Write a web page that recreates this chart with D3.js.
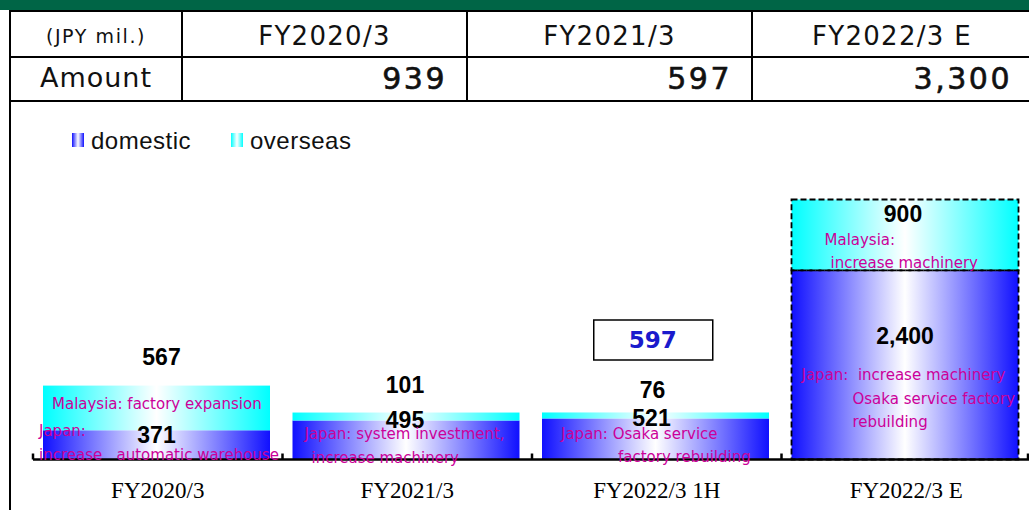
<!DOCTYPE html>
<html>
<head>
  <meta charset="utf-8">
  <title>Capital investment</title>
  <style>
    body { margin: 0; background: #fff; }
    svg { display: block; }
    .tbl_line { stroke: #000; stroke-width: 2; }
    .tbl_head { font-family: "DejaVu Sans", Verdana, sans-serif; fill: #111; text-anchor: middle; dominant-baseline: middle; }
    .tbl_amt { font-family: "DejaVu Sans", Verdana, sans-serif; font-size: 30px; fill: #111; stroke: #111; stroke-width: 0.6px; text-anchor: end; dominant-baseline: middle; letter-spacing: 2.5px; }
    .legend_text { font-family: "Liberation Sans", Arial, sans-serif; font-size: 24px; fill: #111; letter-spacing: 0.5px; }
    .val_label { font-family: "Liberation Sans", Arial, sans-serif; font-size: 23px; font-weight: bold; fill: #000; text-anchor: middle; dominant-baseline: middle; }
    .note { font-family: "DejaVu Sans", Verdana, sans-serif; font-size: 15px; fill: #cc0099; dominant-baseline: middle; white-space: pre; }
    .axis text { font-family: "Liberation Serif", "Times New Roman", serif; font-size: 23px; fill: #000; }
    .axis path, .axis line { stroke: #000; stroke-width: 2.5; }
  </style>
</head>
<body>
  <svg id="canvas" width="1029" height="510"></svg>
  <script src="https://d3js.org/d3.v7.min.js"></script>
  <script>
    // ---- data ----
    const categories = ["FY2020/3", "FY2021/3", "FY2022/3 1H", "FY2022/3 E"];
    const domestic = [371, 495, 521, 2400];
    const overseas = [567, 101, 76, 900];
    const tableHead = ["(JPY mil.)", "FY2020/3", "FY2021/3", "FY2022/3 E"];
    const tableRowLabel = "Amount";
    const tableAmounts = [939, 597, 3300];
    const halfYearTotal = 597;
    const seriesNames = ["domestic", "overseas"];
    const noteLines = [
      ["Malaysia: factory expansion", "Japan:", "increase   automatic warehouse"],
      ["Japan: system investment,", "increase machinery"],
      ["Japan: Osaka service", "factory rebuilding"],
      ["Malaysia:", "increase machinery", "Japan:  increase machinery", "Osaka service factory", "rebuilding"]
    ];

    // ---- layout (offsets from band start / pixel rows) ----
    const noteOffsets = [
      [[19, 404], [6, 431], [6, 455]],
      [[22, 434], [29, 458]],
      [[29, 434], [86, 457]],
      [[43, 240], [49, 263], [20, 375], [71, 399], [71, 422]]
    ];
    const overLabelDy = [-27, -26, -21, 16];   // from top of overseas segment
    const domLabelDy = [7, 1, 1.5, 68];       // from top of domestic segment
    const overLabelDx = [5, -1, -3, -2];
    const domLabelDx = [0, -1, -4, 0];

    const svg = d3.select("#canvas");
    const W = 1029, H = 510;

    // gradients
    const defs = svg.append("defs");
    const grad = (id, c) => {
      const g = defs.append("linearGradient").attr("id", id).attr("x1", 0).attr("x2", 1).attr("y1", 0).attr("y2", 0);
      g.append("stop").attr("offset", 0).attr("stop-color", c);
      g.append("stop").attr("offset", 0.5).attr("stop-color", "#fff");
      g.append("stop").attr("offset", 1).attr("stop-color", c);
    };
    grad("g_dom", "#1010ff");
    grad("g_ovs", "#00ffff");
    const fills = ["url(#g_dom)", "url(#g_ovs)"];

    // ---- header table ----
    svg.append("rect").attr("x", 0).attr("y", 0).attr("width", W).attr("height", 10).attr("fill", "#006546");

    const colX = [10, 182, 467, 752, 1032];
    const rowY = [11, 57, 101];
    rowY.forEach(y => svg.append("line").attr("class", "tbl_line").attr("x1", 10).attr("x2", W).attr("y1", y).attr("y2", y));
    colX.slice(1, 4).forEach(x => svg.append("line").attr("class", "tbl_line").attr("x1", x).attr("x2", x).attr("y1", 11).attr("y2", 101));
    svg.append("line").attr("class", "tbl_line").attr("x1", 10).attr("x2", 10).attr("y1", 10).attr("y2", H);

    svg.selectAll(".tbl_head_t").data(tableHead).enter().append("text")
      .attr("class", "tbl_head")
      .attr("x", (_, i) => (colX[i] + colX[i + 1]) / 2)
      .attr("y", 37.5)
      .style("font-size", (_, i) => i ? "26px" : "19px")
      .style("letter-spacing", (_, i) => i ? "1.3px" : "1.6px")
      .text(d => d);

    svg.append("text").attr("class", "tbl_head")
      .attr("x", (colX[0] + colX[1]) / 2).attr("y", 79.5)
      .style("font-size", "27px").style("letter-spacing", "1px")
      .text(tableRowLabel);

    svg.selectAll(".tbl_amt").data(tableAmounts).enter().append("text")
      .attr("class", "tbl_amt")
      .attr("x", (_, i) => colX[i + 2] - 20)
      .attr("y", 80)
      .text(d => d3.format(",")(d));

    // ---- chart ----
    const x = d3.scaleBand().domain(categories).range([33, 1031]);
    const totals = domestic.map((d, i) => d + overseas[i]);
    const y = d3.scaleLinear().domain([0, d3.max(totals)]).range([459.5, 199.5]);
    const barX = c => x(c) + 10;
    const barW = x.bandwidth() - 22.5;

    const rows = categories.map((c, i) => ({ c, i, dom: domestic[i], ovs: overseas[i] }));

    const bars = svg.append("g");
    bars.selectAll(".dom").data(rows).enter().append("rect")
      .attr("x", d => barX(d.c)).attr("width", barW)
      .attr("y", d => y(d.dom)).attr("height", d => y(0) - y(d.dom))
      .attr("fill", fills[0]);
    bars.selectAll(".ovs").data(rows).enter().append("rect")
      .attr("x", d => barX(d.c)).attr("width", barW)
      .attr("y", d => y(d.dom + d.ovs)).attr("height", d => y(d.dom) - y(d.dom + d.ovs))
      .attr("fill", fills[1]);

    // forecast bar outline (dashed)
    const fc = rows[rows.length - 1];
    [[fc.dom, 0], [fc.dom + fc.ovs, fc.dom]].forEach(([top, bot]) => {
      svg.append("rect")
        .attr("x", barX(fc.c)).attr("width", barW)
        .attr("y", y(top)).attr("height", y(bot) - y(top))
        .attr("fill", "none").attr("stroke", "#000").attr("stroke-width", 1.8)
        .attr("stroke-dasharray", "6,3");
    });

    // axis
    const axis = svg.append("g").attr("class", "axis").attr("transform", "translate(0," + y(0) + ")")
      .call(d3.axisBottom(x).tickSize(0).tickPadding(22));
    axis.select(".domain").attr("d", "M33,0H" + W);
    axis.selectAll(".bound").data(categories.concat([null])).enter().append("line")
      .attr("x1", d => d ? x(d) : x.range()[1] - 3).attr("x2", d => d ? x(d) : x.range()[1] - 3)
      .attr("y1", 0).attr("y2", -6);

    // value labels
    svg.selectAll(".ovs_lbl").data(rows).enter().append("text")
      .attr("class", "val_label")
      .attr("x", d => barX(d.c) + barW / 2 + overLabelDx[d.i])
      .attr("y", d => y(d.dom + d.ovs) + overLabelDy[d.i])
      .text(d => d3.format(",")(d.ovs));
    svg.selectAll(".dom_lbl").data(rows).enter().append("text")
      .attr("class", "val_label")
      .attr("x", d => barX(d.c) + barW / 2 + domLabelDx[d.i])
      .attr("y", d => y(d.dom) + domLabelDy[d.i])
      .text(d => d3.format(",")(d.dom));

    // half-year total box
    const hx = x(categories[2]) + x.bandwidth() / 2 - 4;
    svg.append("rect").attr("x", hx - 59).attr("y", 320).attr("width", 119).attr("height", 40)
      .attr("fill", "#fff").attr("stroke", "#000").attr("stroke-width", 1.5);
    svg.append("text").attr("x", hx).attr("y", 341)
      .attr("text-anchor", "middle").attr("dominant-baseline", "middle")
      .style("font-family", "'DejaVu Sans', Verdana, sans-serif").style("font-weight", "bold")
      .style("font-size", "23px").style("fill", "#1a1acc")
      .text(halfYearTotal);

    // notes
    noteLines.forEach((lines, bi) => {
      lines.forEach((t, li) => {
        svg.append("text").attr("class", "note")
          .attr("x", x(categories[bi]) + noteOffsets[bi][li][0])
          .attr("y", noteOffsets[bi][li][1])
          .text(t);
      });
    });

    // legend
    const lg = svg.append("g").attr("transform", "translate(72,133)");
    const li = lg.selectAll("g").data(seriesNames).enter().append("g")
      .attr("transform", (_, i) => "translate(" + (i * 159) + ",0)");
    li.append("rect").attr("width", 12).attr("height", 14).attr("fill", (_, i) => fills[i]);
    li.append("text").attr("class", "legend_text").attr("x", 19).attr("y", 16).text(d => d);
  </script>
</body>
</html>
